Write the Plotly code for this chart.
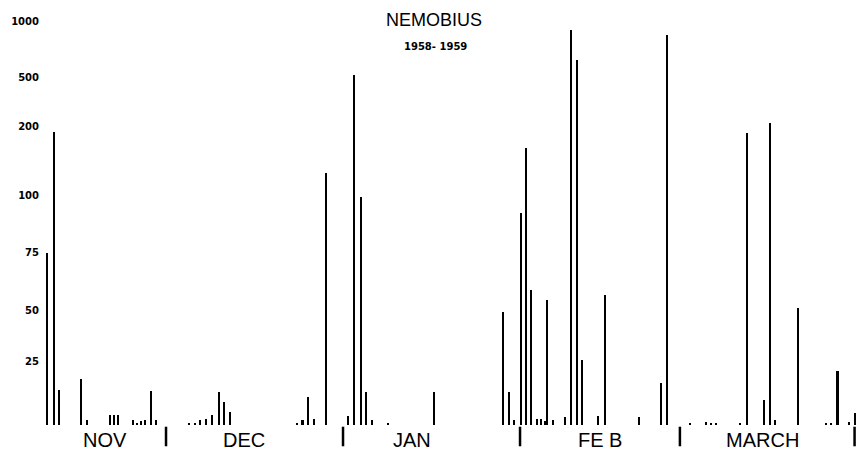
import numpy as np
import plotly.graph_objects as go

# Nemobius catches, winter 1958-1959.
# Day numbers count from 1 November 1958 (= day 0); decimals are the time of the
# observation within the day.
NOV_DAYS = [8.6, 9.8, 10.8, 14.6, 15.7, 19.7, 20.4, 21.1, 23.7, 24.4, 25.2, 25.9, 26.8, 27.7]
NOV_COUNTS = [75, 192, 14, 18, 2, 4, 4, 4, 2, 0.5, 1.5, 2, 13.5, 2]

DEC_DAYS = [33.5, 34.6, 35.5, 36.5, 37.6, 38.7, 39.7, 40.7, 52.5, 53.4, 54.4, 55.4, 57.6]
DEC_COUNTS = [0.5, 0.5, 2, 2.5, 4, 13, 9, 5, 0.5, 2, 11, 2.5, 132]

JAN_DAYS = [61.4, 62.5, 63.6, 64.5, 65.5, 68.3, 76.4, 88.5, 89.5, 90.5]
JAN_COUNTS = [3.5, 520, 99, 13, 2, 0.5, 13, 49, 13, 2]

FEB_DAYS = [91.6, 92.5, 93.5, 94.4, 95.2, 95.8, 96.3, 97.3, 99.3, 100.4, 101.4,
            102.4, 105.2, 106.4, 112.4, 116.2, 117.3]
FEB_COUNTS = [92, 168, 58.7, 2.5, 2.5, 1.5, 54.3, 2, 3.3, 930, 658,
              26, 3.5, 56.5, 3.3, 16.7, 887]

MAR_DAYS = [121.3, 124.1, 124.9, 125.8, 130.1, 131.3, 134.3, 135.2, 136.2, 140.1,
            145.1, 146.0, 147.1, 149.1, 150.2]
MAR_COUNTS = [0.4, 1.3, 0.5, 0.5, 0.5, 191, 10, 224, 2, 51,
              0.5, 0.5, 21.5, 1.2, 4.6]

MONTHS = ["NOV", "DEC", "JAN", "FE B", "MARCH"]
MONTH_LENGTHS = [30, 31, 31, 28, 31]

# The vertical scale is stretched by hand: each labelled count sits on its own step.
SCALE_COUNTS = [0, 25, 50, 75, 100, 200, 500, 1000]
SCALE_STEPS = [0, 1.10, 2.0, 3.0, 4.0, 5.19, 6.04, 7.01]
TICK_COUNTS = SCALE_COUNTS[1:]


def to_scale(counts):
    return np.interp(counts, SCALE_COUNTS, SCALE_STEPS)


days = NOV_DAYS + DEC_DAYS + JAN_DAYS + FEB_DAYS + MAR_DAYS
counts = NOV_COUNTS + DEC_COUNTS + JAN_COUNTS + FEB_COUNTS + MAR_COUNTS

X_RANGE = [7.43, 150.34]
Y_RANGE = [-0.4348, 7.3913]

fig = go.Figure()
fig.add_trace(go.Bar(
    x=days,
    y=to_scale(counts),
    customdata=counts,
    width=0.36,
    marker=dict(color="black", line=dict(width=0)),
    hovertemplate="day %{x}<br>%{customdata}<extra></extra>",
))

# month boundaries: short strokes below the base line
month_starts = np.cumsum([0] + MONTH_LENGTHS)
boundaries = [min(b - 0.5, X_RANGE[1] - 0.25) for b in month_starts[1:]]
for b in boundaries:
    fig.add_shape(type="line", xref="x", yref="y", x0=b, x1=b, y0=-0.03, y1=-0.37,
                  line=dict(color="black", width=2.5))

# month names, placed under each month's run of bars
label_days = [18.9, 43.2, 72.5, 105.5, 133.9]
for name, d in zip(MONTHS, label_days):
    fig.add_annotation(x=d, y=-0.26, xref="x", yref="y", text=name, showarrow=False,
                       font=dict(family="Liberation Sans", size=20, color="black"),
                       xanchor="center", yanchor="middle")

fig.add_annotation(x=0.483, y=1 - 19.5 / 450, xref="paper", yref="paper", text="NEMOBIUS",
                   showarrow=False, xanchor="center", yanchor="middle",
                   font=dict(family="Liberation Sans", size=18, color="black"))
fig.add_annotation(x=0.485, y=1 - 46 / 450, xref="paper", yref="paper", text="<b>1958- 1959</b>",
                   showarrow=False, xanchor="center", yanchor="middle",
                   font=dict(family="DejaVu Sans", size=10, color="black"))

fig.update_layout(
    width=856, height=450,
    margin=dict(l=40, r=0, t=0, b=0),
    paper_bgcolor="white", plot_bgcolor="white",
    showlegend=False, bargap=0,
    xaxis=dict(range=X_RANGE, showgrid=False, zeroline=False, showline=False,
               showticklabels=False, ticks=""),
    yaxis=dict(range=Y_RANGE, showgrid=False, zeroline=False, showline=False,
               tickvals=to_scale(TICK_COUNTS), ticktext=[str(c) for c in TICK_COUNTS],
               ticks="", tickfont=dict(family="DejaVu Sans", size=10, color="black",
                                       weight="bold")),
)

fig.write_html("out.html")
